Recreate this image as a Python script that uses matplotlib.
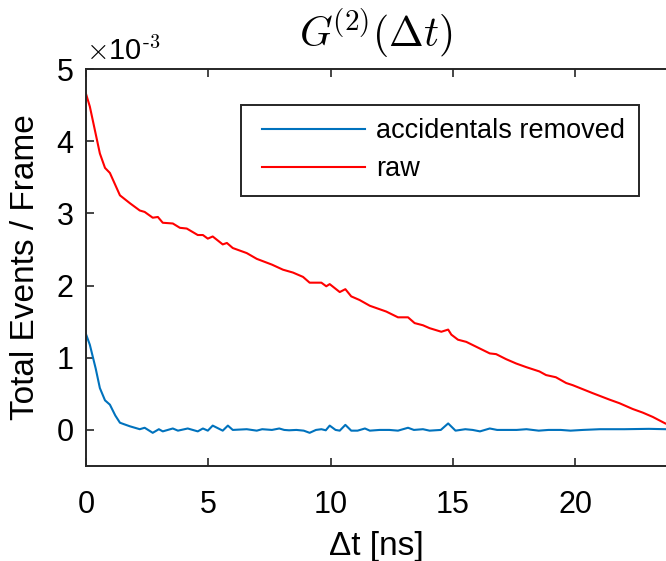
import matplotlib
matplotlib.use("Agg")
import matplotlib.pyplot as plt
from matplotlib.legend_handler import HandlerLine2D

# raw coincidences (units of 1e-3)
t_raw = [0, 0.16, 0.57, 0.78, 0.98, 1.39, 1.8, 2.2, 2.4, 2.73, 2.94, 3.14, 3.55,
         3.84, 4.12, 4.57, 4.78, 4.98, 5.18, 5.59, 5.76, 6.0, 6.57, 6.98, 7.6,
         8.05, 8.46, 8.87, 9.14, 9.62, 9.82, 9.96, 10.37, 10.6, 10.84, 11.18,
         11.6, 12.27, 12.75, 13.16, 13.43, 13.77, 14.04, 14.52, 14.8, 14.93,
         15.2, 15.54, 16.08, 16.5, 16.76, 17.17, 17.58, 17.99, 18.53, 18.8,
         19.2, 19.62, 19.89, 20.7, 21.39, 21.8, 22.34, 22.75, 23.16, 23.67]
g_raw = [4.66, 4.48, 3.83, 3.63, 3.56, 3.25, 3.14, 3.04, 3.02, 2.94, 2.95, 2.87,
         2.86, 2.80, 2.79, 2.70, 2.70, 2.65, 2.68, 2.57, 2.59, 2.52, 2.45, 2.37,
         2.29, 2.22, 2.18, 2.12, 2.04, 2.04, 1.99, 2.02, 1.91, 1.95, 1.85, 1.80,
         1.72, 1.64, 1.56, 1.56, 1.48, 1.45, 1.41, 1.36, 1.39, 1.32, 1.25, 1.22,
         1.13, 1.06, 1.05, 0.98, 0.92, 0.87, 0.81, 0.76, 0.73, 0.65, 0.62, 0.51,
         0.42, 0.37, 0.29, 0.24, 0.18, 0.09]

# accidentals removed (units of 1e-3)
t_acc = [0, 0.16, 0.4, 0.57, 0.78, 0.98, 1.2, 1.39, 1.55, 1.8, 2.2, 2.4, 2.73,
         2.98, 3.14, 3.55, 3.76, 4.16, 4.57, 4.78, 4.98, 5.18, 5.59, 5.8, 6.0,
         6.57, 6.98, 7.2, 7.6, 7.9, 8.1, 8.3, 8.6, 8.9, 9.14, 9.4, 9.62, 9.8,
         9.96, 10.2, 10.37, 10.6, 10.84, 11.1, 11.4, 11.6, 12.0, 12.4, 12.75,
         13.16, 13.4, 13.77, 14.04, 14.5, 14.8, 15.1, 15.5, 15.8, 16.1, 16.5,
         16.8, 17.2, 17.6, 18.0, 18.5, 18.9, 19.4, 19.8, 20.3, 21.0, 22.0, 23.0,
         23.7]
g_acc = [1.33, 1.18, 0.85, 0.58, 0.41, 0.35, 0.2, 0.10, 0.08, 0.05, 0.01, 0.03,
         -0.04, 0.01, -0.02, 0.02, -0.01, 0.02, -0.02, 0.02, -0.01, 0.06, -0.01,
         0.06, 0.0, 0.01, -0.01, 0.01, 0.0, 0.02, 0.0, -0.005, 0.0, -0.01, -0.04,
         0.0, 0.01, -0.005, 0.06, 0.0, -0.01, 0.07, -0.01, -0.01, 0.02, -0.01,
         0.0, 0.0, -0.01, 0.03, 0.0, 0.01, -0.01, 0.0, 0.09, -0.01, 0.01, 0.0,
         -0.02, 0.02, 0.0, 0.0, 0.0, 0.01, -0.01, 0.0, 0.0, -0.01, 0.0, 0.01,
         0.01, 0.015, 0.01]

x_ticks = [0, 5, 10, 15, 20]
y_ticks = [0, 1, 2, 3, 4, 5]

plt.rcParams["font.family"] = ["Liberation Sans", "DejaVu Sans"]
plt.rcParams["mathtext.fontset"] = "cm"

fig = plt.figure(figsize=(6.66, 5.61), dpi=100)
ax = fig.add_axes([0.129, 0.1693, 0.871, 0.7077])

ax.plot(t_acc, g_acc, color="#0072BD", lw=1.5, label="accidentals removed")
ax.plot(t_raw, g_raw, color="#FF0000", lw=1.5, label="raw")

ax.set_xlim(0, 23.7)
ax.set_ylim(-0.5, 5)
ax.set_xticks(x_ticks)
ax.set_yticks(y_ticks)
ax.tick_params(direction="in", length=6, width=1.2, color="#262626",
               labelsize=22, top=True, right=False)
ax.tick_params(axis="x", pad=17)
ax.tick_params(axis="y", pad=9)
for side in ["left", "bottom", "top"]:
    ax.spines[side].set_linewidth(1.4)
    ax.spines[side].set_color("#262626")
ax.spines["right"].set_visible(False)

ax.set_xlabel("Δt [ns]", fontsize=24, labelpad=8)
ax.set_ylabel("Total Events / Frame", fontsize=24, labelpad=11)
ax.set_title(r"$G^{\!(2)}(\Delta t)$", fontsize=30, pad=16)
ax.text(0.0, 1.008, r"$\times$10$^{\text{-3}}$", transform=ax.transAxes,
        fontsize=21, ha="left", va="bottom")

leg = ax.legend(loc="upper left", bbox_to_anchor=(0.267, 0.91), fontsize=19.5,
                frameon=True, fancybox=False, framealpha=1,
                handlelength=4.1, handletextpad=0.41,
                borderpad=0.5, labelspacing=0.45, borderaxespad=0,
                handler_map={ln: HandlerLine2D(xpad=0.3) for ln in ax.get_lines()})
leg.get_frame().set_edgecolor("#262626")
leg.get_frame().set_linewidth(1.4)

fig.savefig("out.png", dpi=100)
